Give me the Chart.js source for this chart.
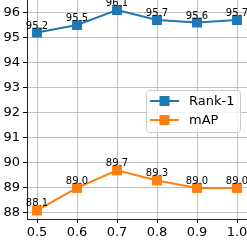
<!DOCTYPE html>
<html>
<head>
<meta charset="utf-8">
<script src="https://cdn.jsdelivr.net/npm/chart.js@4/dist/chart.umd.min.js"></script>
<style>
  html, body { margin: 0; padding: 0; background: #fff; }
  #chart { display: block; }
</style>
</head>
<body>
<canvas id="chart" width="247" height="243"></canvas>
<script>
// data
const xValues = [0.5, 0.6, 0.7, 0.8, 0.9, 1.0];
const rank1 = [95.2, 95.5, 96.1, 95.7, 95.6, 95.7];
const mAP = [88.1, 89.0, 89.7, 89.3, 89.0, 89.0];
const xTicks = [0.5, 0.6, 0.7, 0.8, 0.9, 1.0];
const yTicks = [88, 89, 90, 91, 92, 93, 94, 95, 96];
const seriesNames = ["Rank-1", "mAP"];

const blue = "#1f77b4";
const orange = "#ff7f0e";

// value labels above each point
const valueLabels = {
  id: "valueLabels",
  afterDatasetsDraw(chart) {
    const ctx = chart.ctx;
    ctx.save();
    ctx.font = "10px 'DejaVu Sans'";
    ctx.fillStyle = "#000";
    ctx.textAlign = "center";
    ctx.textBaseline = "alphabetic";
    chart.data.datasets.forEach((ds, i) => {
      chart.getDatasetMeta(i).data.forEach((pt, j) => {
        ctx.fillText(ds.data[j].y.toFixed(1), pt.x, pt.y - 4);
      });
    });
    ctx.restore();
  }
};

// legend box inside the plot, lower right
const boxLegend = {
  id: "boxLegend",
  afterDraw(chart) {
    const ctx = chart.ctx;
    const x0 = 146, y0 = 90, w = 94, h = 42;
    ctx.save();
    ctx.beginPath();
    ctx.roundRect(x0 + 0.5, y0 + 0.5, w, h, 3);
    ctx.fillStyle = "rgba(255,255,255,0.8)";
    ctx.fill();
    ctx.strokeStyle = "#cccccc";
    ctx.lineWidth = 1;
    ctx.stroke();
    chart.data.datasets.forEach((ds, i) => {
      const cy = y0 + 11 + i * 19;
      ctx.strokeStyle = ds.borderColor;
      ctx.lineWidth = 2;
      ctx.beginPath();
      ctx.moveTo(x0 + 4, cy);
      ctx.lineTo(x0 + 33, cy);
      ctx.stroke();
      ctx.fillStyle = ds.borderColor;
      ctx.fillRect(x0 + 13.5, cy - 5, 10, 10);
      ctx.fillStyle = "#000";
      ctx.font = "13px 'DejaVu Sans'";
      ctx.textAlign = "left";
      ctx.textBaseline = "middle";
      ctx.fillText(ds.label, x0 + 43, cy + 1);
    });
    ctx.restore();
  }
};

const gridStyle = {
  color: "#b0b0b0",
  borderDash: [4, 2],
  lineWidth: 0.8,
  drawTicks: true,
  tickLength: 4,
  tickColor: "#000",
  tickBorderDash: [],
  tickWidth: 1
};

new Chart(document.getElementById("chart").getContext("2d"), {
  type: "line",
  data: {
    datasets: [{
      label: seriesNames[0],
      data: xValues.map((x, i) => ({ x: x, y: rank1[i] })),
      borderColor: blue,
      backgroundColor: blue,
      borderWidth: 2,
      pointStyle: "rect",
      pointRadius: 7,
      pointHoverRadius: 7,
      pointBorderWidth: 0,
      tension: 0,
      clip: false
    }, {
      label: seriesNames[1],
      data: xValues.map((x, i) => ({ x: x, y: mAP[i] })),
      borderColor: orange,
      backgroundColor: orange,
      borderWidth: 2,
      pointStyle: "rect",
      pointRadius: 7,
      pointHoverRadius: 7,
      pointBorderWidth: 0,
      tension: 0,
      clip: false
    }]
  },
  options: {
    responsive: false,
    animation: false,
    devicePixelRatio: 1,
    layout: { padding: 0, autoPadding: false },
    plugins: {
      legend: { display: false },
      tooltip: { enabled: false }
    },
    scales: {
      x: {
        type: "linear",
        min: 0.475,
        max: 1.025,
        grid: gridStyle,
        border: { display: true, color: "#222", width: 1 },
        afterBuildTicks: (axis) => { axis.ticks = xTicks.map(v => ({ value: v })); },
        afterFit: (axis) => { axis.height = 24; axis.paddingLeft = 0; axis.paddingRight = 0; },
        ticks: {
          color: "#000",
          padding: 2,
          maxRotation: 0,
          font: { family: "DejaVu Sans", size: 13 },
          callback: (v) => Number(v).toFixed(1)
        }
      },
      y: {
        min: 87.76,
        max: 96.5,
        grid: gridStyle,
        border: { display: true, color: "#222", width: 1 },
        afterBuildTicks: (axis) => { axis.ticks = yTicks.map(v => ({ value: v })); },
        afterFit: (axis) => { axis.width = 27; axis.paddingTop = 0; axis.paddingBottom = 0; },
        ticks: {
          color: "#000",
          padding: 3,
          font: { family: "DejaVu Sans", size: 13 },
          callback: (v) => String(v)
        }
      }
    }
  },
  plugins: [valueLabels, boxLegend]
});
</script>
</body>
</html>
